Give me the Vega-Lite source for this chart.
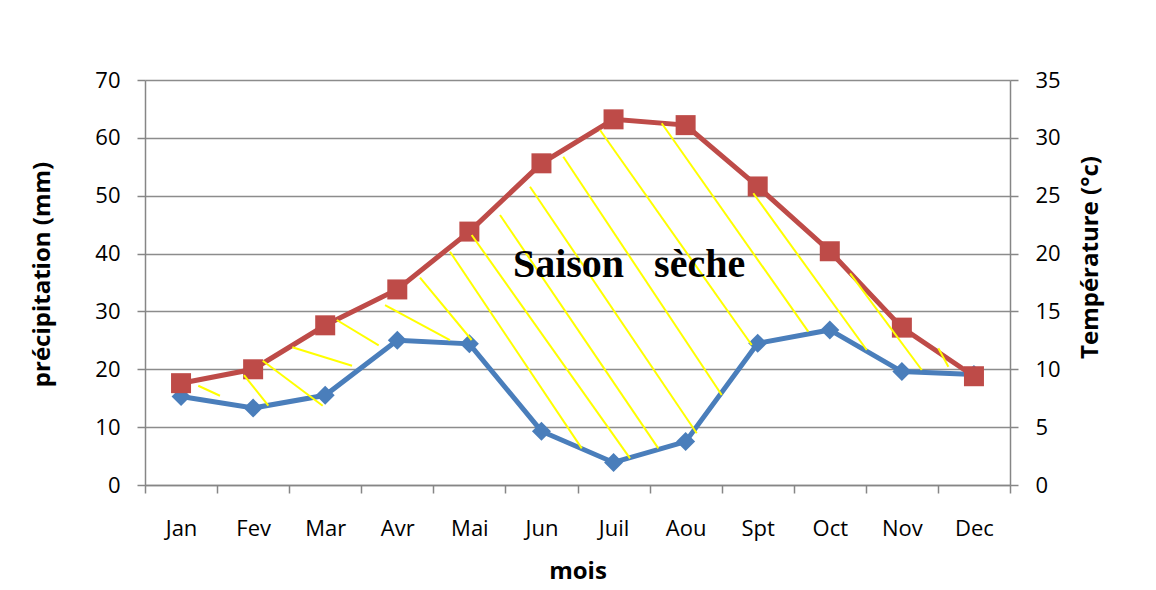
{
  "$schema": "https://vega.github.io/schema/vega-lite/v6.json",
  "width": 865,
  "height": 405,
  "autosize": {"type": "none"},
  "padding": {"left": 145, "top": 80, "right": 146, "bottom": 105},
  "background": "white",
  "config": {
    "view": {"stroke": null},
    "font": "Open Sans",
    "axis": {
      "labelFont": "Open Sans",
      "labelFontSize": 22,
      "labelColor": "#000000",
      "titleFont": "Open Sans",
      "titleFontSize": 24,
      "titleFontWeight": "bold",
      "titleColor": "#000000",
      "domainColor": "#868686",
      "domainWidth": 1.5,
      "tickColor": "#868686",
      "tickWidth": 1.5,
      "tickSize": 8,
      "gridColor": "#8c8c8c",
      "gridWidth": 1.5
    },
    "axisX": {
      "values": [0.5, 1, 1.5, 2, 2.5, 3, 3.5, 4, 4.5, 5, 5.5, 6, 6.5, 7, 7.5, 8, 8.5, 9, 9.5, 10, 10.5, 11, 11.5, 12, 12.5],
      "grid": false,
      "tickSize": 8,
      "tickOpacity": {"condition": {"test": "datum.value % 1 == 0", "value": 0}, "value": 1},
      "labelExpr": "datum.value == 1 ? 'Jan' : datum.value == 2 ? 'Fev' : datum.value == 3 ? 'Mar' : datum.value == 4 ? 'Avr' : datum.value == 5 ? 'Mai' : datum.value == 6 ? 'Jun' : datum.value == 7 ? 'Juil' : datum.value == 8 ? 'Aou' : datum.value == 9 ? 'Spt' : datum.value == 10 ? 'Oct' : datum.value == 11 ? 'Nov' : datum.value == 12 ? 'Dec' : ''",
      "labelPadding": 25,
      "labelFlush": false,
      "labelOverlap": false,
      "labelBound": false,
      "titlePadding": 20
    }
  },
  "datasets": {
    "climate": [
      {"mois": "Jan", "m": 1, "precip": 15.3, "temp": 8.8},
      {"mois": "Fev", "m": 2, "precip": 13.3, "temp": 10.0},
      {"mois": "Mar", "m": 3, "precip": 15.5, "temp": 13.8},
      {"mois": "Avr", "m": 4, "precip": 25.0, "temp": 16.9},
      {"mois": "Mai", "m": 5, "precip": 24.4, "temp": 21.9},
      {"mois": "Jun", "m": 6, "precip": 9.3, "temp": 27.8},
      {"mois": "Juil", "m": 7, "precip": 3.9, "temp": 31.6},
      {"mois": "Aou", "m": 8, "precip": 7.5, "temp": 31.1},
      {"mois": "Spt", "m": 9, "precip": 24.5, "temp": 25.8},
      {"mois": "Oct", "m": 10, "precip": 26.8, "temp": 20.2},
      {"mois": "Nov", "m": 11, "precip": 19.6, "temp": 13.6},
      {"mois": "Dec", "m": 12, "precip": 19.1, "temp": 9.4}
    ],
    "hatch": [
      {"x1": 1.239, "y1": 17.16, "x2": 1.540, "y2": 15.43},
      {"x1": 1.873, "y1": 19.01, "x2": 2.211, "y2": 13.71},
      {"x1": 2.133, "y1": 21.48, "x2": 2.965, "y2": 13.71},
      {"x1": 2.544, "y1": 23.80, "x2": 3.372, "y2": 20.62},
      {"x1": 3.160, "y1": 28.52, "x2": 3.742, "y2": 24.15},
      {"x1": 3.830, "y1": 31.11, "x2": 4.731, "y2": 25.06},
      {"x1": 4.315, "y1": 35.83, "x2": 5.032, "y2": 25.06},
      {"x1": 4.731, "y1": 40.32, "x2": 6.559, "y2": 6.34},
      {"x1": 5.032, "y1": 43.21, "x2": 7.229, "y2": 4.61},
      {"x1": 5.425, "y1": 46.67, "x2": 7.621, "y2": 6.34},
      {"x1": 5.841, "y1": 51.56, "x2": 8.154, "y2": 8.94},
      {"x1": 6.303, "y1": 56.74, "x2": 8.501, "y2": 15.56},
      {"x1": 6.812, "y1": 61.36, "x2": 8.917, "y2": 24.20},
      {"x1": 7.668, "y1": 62.52, "x2": 9.702, "y2": 26.50},
      {"x1": 8.939, "y1": 50.42, "x2": 10.513, "y2": 23.33},
      {"x1": 10.281, "y1": 36.59, "x2": 11.276, "y2": 19.88},
      {"x1": 11.506, "y1": 23.63, "x2": 11.645, "y2": 20.45}
    ],
    "label": [
      {"x": 7.215, "y": 36.0, "text": "Saison\u00a0\u00a0\u00a0sèche"}
    ]
  },
  "layer": [
    {
      "data": {"name": "climate"},
      "encoding": {
        "x": {
          "field": "m",
          "type": "quantitative",
          "scale": {"domain": [0.5, 12.5], "nice": false, "zero": false},
          "title": "mois"
        },
        "y": {
          "field": "precip",
          "type": "quantitative",
          "scale": {"domain": [0, 70], "nice": false},
          "title": "précipitation (mm)",
          "axis": {
            "orient": "left",
            "values": [0, 10, 20, 30, 40, 50, 60, 70],
            "grid": true,
            "labelPadding": 17,
            "titlePadding": 40,
            "titleY": 194
          }
        }
      },
      "layer": [
        {"mark": {"type": "line", "color": "#4A7EBB", "strokeWidth": 5}},
        {"mark": {"type": "point", "shape": "diamond", "filled": true, "size": 361, "color": "#4A7EBB", "opacity": 1}}
      ]
    },
    {
      "data": {"name": "climate"},
      "encoding": {
        "x": {"field": "m", "type": "quantitative", "scale": {"domain": [0.5, 12.5], "nice": false, "zero": false}, "title": "mois"},
        "y": {
          "field": "temp",
          "type": "quantitative",
          "scale": {"domain": [0, 35], "nice": false},
          "title": "Température (°c)",
          "axis": {
            "orient": "right",
            "values": [0, 5, 10, 15, 20, 25, 30, 35],
            "grid": false,
            "labelPadding": 17,
            "titlePadding": 18,
            "titleAngle": -90,
            "titleBaseline": "top",
            "titleY": 177
          }
        }
      },
      "layer": [
        {"mark": {"type": "line", "color": "#BE4B48", "strokeWidth": 5}},
        {"mark": {"type": "point", "shape": "square", "filled": true, "size": 400, "color": "#BE4B48", "opacity": 1}}
      ]
    },
    {
      "layer": [
        {
          "data": {"name": "hatch"},
          "mark": {"type": "rule", "color": "#FFFF00", "strokeWidth": 2},
          "encoding": {
            "x": {"field": "x1", "type": "quantitative", "scale": {"domain": [0.5, 12.5], "nice": false, "zero": false}, "title": "mois"},
            "x2": {"field": "x2"},
            "y": {"field": "y1", "type": "quantitative", "scale": {"domain": [0, 70], "nice": false}, "axis": null},
            "y2": {"field": "y2"}
          }
        },
        {
          "data": {"name": "label"},
          "mark": {"type": "text", "font": "Liberation Serif", "fontWeight": "bold", "fontSize": 40, "align": "center", "baseline": "alphabetic", "color": "#000000"},
          "encoding": {
            "x": {"field": "x", "type": "quantitative", "scale": {"domain": [0.5, 12.5], "nice": false, "zero": false}, "title": "mois"},
            "y": {"field": "y", "type": "quantitative", "scale": {"domain": [0, 70], "nice": false}, "axis": null},
            "text": {"field": "text"}
          }
        }
      ]
    }
  ],
  "resolve": {"scale": {"y": "independent"}}
}
